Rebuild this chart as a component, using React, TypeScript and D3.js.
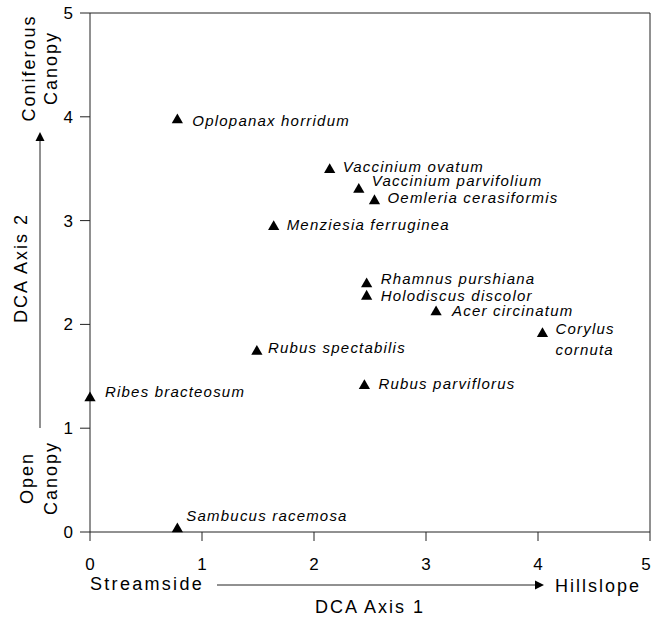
import React from "react";
import * as d3 from "d3";

// DCA ordination scores
const species = [
  "Oplopanax horridum",
  "Vaccinium ovatum",
  "Vaccinium parvifolium",
  "Oemleria cerasiformis",
  "Menziesia ferruginea",
  "Rhamnus purshiana",
  "Holodiscus discolor",
  "Acer circinatum",
  "Corylus cornuta",
  "Rubus spectabilis",
  "Rubus parviflorus",
  "Ribes bracteosum",
  "Sambucus racemosa",
];
const axis1 = [0.78, 2.14, 2.4, 2.54, 1.64, 2.47, 2.47, 3.09, 4.04, 1.49, 2.45, 0.0, 0.78];
const axis2 = [3.97, 3.49, 3.3, 3.19, 2.94, 2.39, 2.27, 2.12, 1.91, 1.74, 1.41, 1.29, 0.03];

const xTicks = [0, 1, 2, 3, 4, 5];
const yTicks = [0, 1, 2, 3, 4, 5];

// label placement relative to the marker: [dx, dy]
const labelNudge: Record<string, [number, number]> = {
  "Oplopanax horridum": [15, 1],
  "Vaccinium ovatum": [13, -3],
  "Vaccinium parvifolium": [13, -8],
  "Oemleria cerasiformis": [13, -3],
  "Menziesia ferruginea": [13, -2],
  "Rhamnus purshiana": [14, -5],
  "Holodiscus discolor": [14, 0],
  "Acer circinatum": [16, -1],
  "Corylus cornuta": [13, -5],
  "Rubus spectabilis": [11, -3],
  "Rubus parviflorus": [14, -2],
  "Ribes bracteosum": [15, -6],
  "Sambucus racemosa": [9, -13],
};

const W = 652;
const H = 618;
const left = 90;
const right = 650;
const top = 13;
const bottom = 532;

const font = "'Liberation Sans', Arial, Helvetica, sans-serif";
const ink = "#000";

export default function App() {
  const x = d3.scaleLinear().domain([0, 5]).range([left, right]);
  const y = d3.scaleLinear().domain([0, 5]).range([bottom, top]);
  const tri = d3.symbol().type(d3.symbolTriangle).size(55)();

  return (
    <svg
      width={W}
      height={H}
      style={{ position: "absolute", left: 0, top: 0, background: "#fff" }}
      fontFamily={font}
    >
      {/* frame */}
      <line x1={left} x2={left} y1={top} y2={bottom} stroke="#222" />
      <line x1={left} x2={right} y1={bottom} y2={bottom} stroke="#222" />
      <line x1={left} x2={right} y1={top} y2={top} stroke="#222" />
      <line x1={right} x2={right} y1={top} y2={bottom} stroke="#222" />

      {/* x axis ticks */}
      {xTicks.map((t) => (
        <g key={"x" + t}>
          <line x1={x(t)} x2={x(t)} y1={bottom} y2={bottom + 9} stroke="#222" />
          <text
            x={Math.min(x(t), W - 6)}
            y={bottom + 38}
            fontSize={17}
            textAnchor="middle"
            fill={ink}
          >
            {t}
          </text>
        </g>
      ))}

      {/* y axis ticks */}
      {yTicks.map((t) => (
        <g key={"y" + t}>
          <line x1={left - 10} x2={left} y1={y(t)} y2={y(t)} stroke="#222" />
          <text x={73} y={y(t) + 6} fontSize={17} textAnchor="end" fill={ink}>
            {t}
          </text>
        </g>
      ))}

      {/* horizontal gradient label */}
      <text x={90} y={590} fontSize={18} letterSpacing={2.3} fill={ink}>
        Streamside
      </text>
      <line x1={217} x2={535} y1={585} y2={585} stroke="#222" />
      <path d="M535,580.5 L544,585 L535,589.5 Z" fill={ink} />
      <text x={555} y={592} fontSize={18} letterSpacing={2} fill={ink}>
        Hillslope
      </text>
      <text x={(left + right) / 2} y={613} fontSize={18} letterSpacing={2} textAnchor="middle" fill={ink}>
        DCA Axis 1
      </text>

      {/* vertical gradient label */}
      <g fontSize={18} letterSpacing={2} fill={ink} textAnchor="middle">
        <text transform="translate(35,68) rotate(-90)">Coniferous</text>
        <text transform="translate(57,68) rotate(-90)">Canopy</text>
        <text transform="translate(27,268) rotate(-90)">DCA Axis 2</text>
        <text transform="translate(33,478) rotate(-90)">Open</text>
        <text transform="translate(57,478) rotate(-90)">Canopy</text>
      </g>
      <line x1={40} x2={40} y1={428} y2={141} stroke="#222" />
      <path d="M35.5,141 L40,132 L44.5,141 Z" fill={ink} />

      {/* species points */}
      {species.map((s, i) => {
        const px = x(axis1[i]);
        const py = y(axis2[i]);
        const [dx, dy] = labelNudge[s];
        const lines = s === "Corylus cornuta" ? s.split(" ") : [s];
        return (
          <g key={s}>
            <path d={tri!} transform={`translate(${px},${py})`} fill={ink} />
            <text
              x={px + dx}
              y={py + dy + 5}
              fontSize={15}
              fontStyle="italic"
              letterSpacing={1.2}
              fill={ink}
            >
              {lines.map((l, j) => (
                <tspan key={l} x={px + dx} dy={j === 0 ? 0 : 21}>
                  {l}
                </tspan>
              ))}
            </text>
          </g>
        );
      })}
    </svg>
  );
}
